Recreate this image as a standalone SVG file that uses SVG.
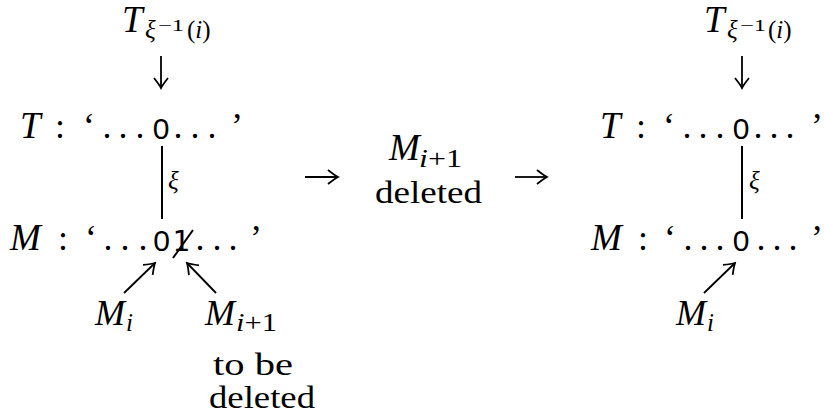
<svg xmlns="http://www.w3.org/2000/svg" width="826" height="417" viewBox="0 0 826 417">
  <style>
    .m { font-family: "Liberation Serif", "DejaVu Serif", serif; font-style: italic; fill: #000; }
    .r { font-family: "Liberation Serif", "DejaVu Serif", serif; fill: #000; }
    .g { text-anchor: middle; }
    .tt { font-family: "Liberation Sans", "DejaVu Sans", sans-serif; fill: #000; text-anchor: middle; }
    .tt1 { font-family: "DejaVu Sans Mono", "Liberation Mono", monospace; fill: #000; text-anchor: middle; }
    .big { font-size: 36px; }
    .sub { font-size: 25px; }
    .line { stroke: #000; stroke-width: 2; fill: none; }
    .arr { stroke: #000; stroke-width: 1.8; fill: none; marker-end: url(#tip); }
  </style>
  <defs>
    <marker id="tip" viewBox="-12 -9 14 18" refX="0" refY="0" markerWidth="14" markerHeight="18" orient="auto" markerUnits="userSpaceOnUse">
      <path d="M-10,-7 Q-3,-1.5 0,0 Q-3,1.5 -10,7" fill="none" stroke="#000" stroke-width="1.8"/>
    </marker>
  </defs>
  <rect width="826" height="417" fill="#fff"/>

  <!-- left column: before deletion -->
  <g id="left-target-label">
    <text class="m" font-size="37" x="122" y="32">T</text>
    <text class="m sub" x="145" y="38">ξ</text>
    <text class="r" font-size="17" x="158" y="31" textLength="26" lengthAdjust="spacingAndGlyphs">−1</text>
    <text class="r sub" x="187" y="38">(<tspan class="m">i</tspan>)</text>
  </g>

  <g id="left-t-row">
    <text class="m" font-size="37" x="20" y="138">T</text>
    <g class="r big g">
      <text x="60" y="138">:</text>
      <text x="89" y="138">‘</text>
      <text x="107" y="138">.</text>
      <text x="123" y="138">.</text>
      <text x="140" y="138">.</text>
      <text x="178" y="138">.</text>
      <text x="195" y="138">.</text>
      <text x="212" y="138">.</text>
      <text x="237" y="138">’</text>
    </g>
    <text class="tt" font-size="30" x="161" y="139">0</text>
  </g>

  <g id="left-m-row">
    <text class="m" font-size="37" x="10" y="250">M</text>
    <g class="r big g">
      <text x="63" y="250">:</text>
      <text x="91" y="250">‘</text>
      <text x="108" y="250">.</text>
      <text x="125" y="250">.</text>
      <text x="143" y="250">.</text>
      <text x="200" y="250">.</text>
      <text x="217" y="250">.</text>
      <text x="233" y="250">.</text>
      <text x="256" y="250">’</text>
    </g>
    <text class="tt" font-size="30" x="161.5" y="251">0</text>
    <text class="tt1" font-size="29" x="181" y="251">1</text>
    <line x1="173" y1="258" x2="193" y2="230" stroke="#000" stroke-width="2"/>
  </g>

  <g id="left-xi-label">
    <text class="m sub" x="168" y="189">ξ</text>
  </g>

  <g id="left-mi-label">
    <text class="m big" x="95" y="325">M</text>
    <text class="m sub" x="126" y="331">i</text>
  </g>

  <g id="left-mi1-label">
    <text class="m big" x="205" y="325">M</text>
    <text class="sub" x="236" y="331" textLength="41" lengthAdjust="spacingAndGlyphs"><tspan class="m">i</tspan><tspan class="r">+1</tspan></text>
    <text class="r g" font-size="31" x="253" y="375" textLength="80" lengthAdjust="spacingAndGlyphs">to be</text>
    <text class="r g" font-size="31" x="262" y="408" textLength="106" lengthAdjust="spacingAndGlyphs">deleted</text>
  </g>

  <!-- middle step -->
  <g id="middle-label">
    <text class="m" font-size="37" x="389" y="160">M</text>
    <text class="sub" x="419" y="167" textLength="43" lengthAdjust="spacingAndGlyphs"><tspan class="m">i</tspan><tspan class="r">+1</tspan></text>
    <text class="r g" font-size="31" x="428.5" y="203" textLength="107" lengthAdjust="spacingAndGlyphs">deleted</text>
  </g>

  <!-- right column: after deletion -->
  <g id="right-target-label">
    <text class="m" font-size="37" x="704" y="32">T</text>
    <text class="m sub" x="727" y="38">ξ</text>
    <text class="r" font-size="17" x="740" y="31" textLength="26" lengthAdjust="spacingAndGlyphs">−1</text>
    <text class="r sub" x="768" y="38">(<tspan class="m">i</tspan>)</text>
  </g>

  <g id="right-t-row">
    <text class="m" font-size="37" x="600" y="138">T</text>
    <g class="r big g">
      <text x="641" y="138">:</text>
      <text x="669" y="138">‘</text>
      <text x="687" y="138">.</text>
      <text x="703" y="138">.</text>
      <text x="720" y="138">.</text>
      <text x="758" y="138">.</text>
      <text x="774" y="138">.</text>
      <text x="790" y="138">.</text>
      <text x="817" y="138">’</text>
    </g>
    <text class="tt" font-size="30" x="741" y="139">0</text>
  </g>

  <g id="right-m-row">
    <text class="m" font-size="37" x="591" y="250">M</text>
    <g class="r big g">
      <text x="643" y="250">:</text>
      <text x="670" y="250">‘</text>
      <text x="688" y="250">.</text>
      <text x="704" y="250">.</text>
      <text x="720" y="250">.</text>
      <text x="761" y="250">.</text>
      <text x="777" y="250">.</text>
      <text x="793" y="250">.</text>
      <text x="817" y="250">’</text>
    </g>
    <text class="tt" font-size="30" x="741" y="251">0</text>
  </g>

  <g id="right-xi-label">
    <text class="m sub" x="749" y="189">ξ</text>
  </g>

  <g id="right-mi-label">
    <text class="m big" x="676" y="325">M</text>
    <text class="m sub" x="707" y="331">i</text>
  </g>

  <!-- connectors -->
  <g id="connectors">
    <line class="arr" x1="161" y1="56" x2="161" y2="88"/>
    <line class="line" x1="162" y1="146" x2="162" y2="219"/>
    <line class="arr" x1="124" y1="293" x2="155" y2="263"/>
    <line class="arr" x1="216" y1="293" x2="187" y2="263"/>

    <line class="arr" x1="305" y1="177" x2="338" y2="177"/>
    <line class="arr" x1="515" y1="177" x2="547" y2="177"/>

    <line class="arr" x1="742" y1="56" x2="742" y2="88"/>
    <line class="line" x1="742" y1="146" x2="742" y2="219"/>
    <line class="arr" x1="704" y1="293" x2="735" y2="263"/>
  </g>
</svg>
